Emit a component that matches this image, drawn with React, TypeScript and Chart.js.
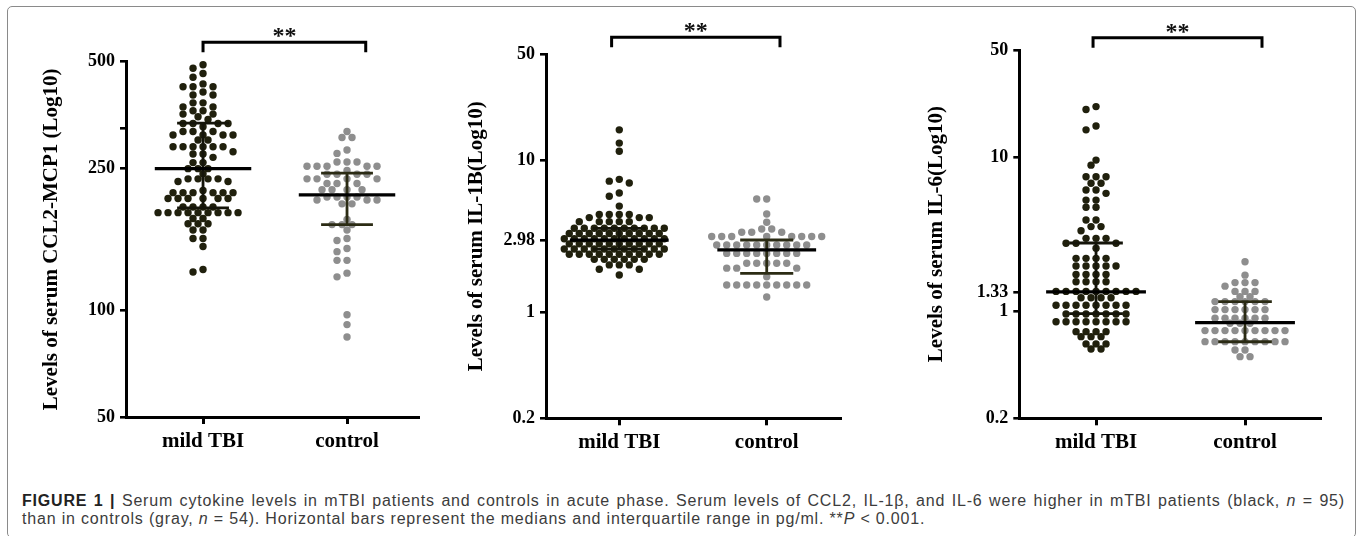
import React, { useEffect, useRef } from "react";
import { Chart, registerables } from "chart.js";

Chart.register(...registerables);

// ---------------- data ----------------
const categories = ["mild TBI", "control"];
const significance = "**";

// Panel 1: CCL2-MCP1
const ccl2Mild = [
  490, 479, 463, 452, 433, 425, 425, 425, 411, 403, 403, 383, 383, 373, 373, 364, 364, 356, 356, 350,
  344, 335, 335, 335, 335, 328, 318, 318, 318, 311, 311, 311, 311, 301, 301, 288, 288, 288, 288, 288,
  288, 279, 275, 275, 269, 260, 260, 250, 250, 250, 242, 234, 234, 234, 234, 230, 230, 217, 214, 214,
  214, 214, 214, 214, 206, 206, 206, 206, 206, 206, 195, 195, 195, 195, 188, 188, 188, 188, 188, 188,
  188, 188, 188, 181, 181, 175, 175, 175, 168, 168, 159, 159, 151, 130, 128,
];
const ccl2Control = [
  318, 306, 306, 282, 276, 261, 261, 261, 254, 254, 254, 254, 254, 247, 241, 241, 241, 241, 234, 234,
  234, 234, 227, 227, 227, 218, 218, 218, 218, 208, 208, 208, 208, 204, 204, 204, 199, 199, 180, 174,
  174, 174, 168, 159, 157, 149, 146, 138, 138, 127, 124, 97, 91, 84,
];
const ccl2Median = [250, 211];
const ccl2Q1 = [194, 174];
const ccl2Q3 = [336, 243];
const ccl2Ticks = [50, 100, 250, 325, 500];
const ccl2TickLabels = ["50", "100", "250", "", "500"];

// Panel 2: IL-1B
const il1bMild = [
  15.9, 13.0, 11.5, 7.5, 7.3, 7.1, 6.1, 5.8, 5.0, 4.4, 4.4, 4.4, 4.4, 4.2, 4.2, 4.2, 3.95, 3.95, 3.95, 3.95,
  3.95, 3.57, 3.57, 3.57, 3.57, 3.57, 3.57, 3.57, 3.57, 3.57, 3.57, 3.3, 3.3, 3.3, 3.3, 3.3, 3.3, 3.3, 3.3,
  3.3, 3.3, 3.05, 3.05, 3.05, 3.05, 3.05, 3.05, 3.05, 3.05, 3.05, 3.05, 3.05, 2.82, 2.82, 2.82, 2.82,
  2.82, 2.82, 2.82, 2.82, 2.82, 2.82, 2.61, 2.61, 2.61, 2.61, 2.61, 2.61, 2.61, 2.61, 2.61, 2.61, 2.61,
  2.41, 2.41, 2.41, 2.41, 2.41, 2.41, 2.41, 2.41, 2.41, 2.41, 2.23, 2.23, 2.23, 2.23, 2.23, 2.23, 2.05,
  2.05, 2.05, 1.92, 1.92, 1.76,
];
const il1bControl = [
  5.57, 5.57, 4.44, 3.91, 3.53, 3.53, 3.36, 3.36, 3.36, 3.15, 3.15, 3.15, 3.15, 3.15, 3.15, 3.15, 3.15,
  2.77, 2.77, 2.77, 2.77, 2.77, 2.77, 2.77, 2.77, 2.77, 2.77, 2.44, 2.44, 2.44, 2.44, 2.44, 2.44, 2.44,
  2.44, 2.1, 2.1, 2.1, 2.1, 2.1, 1.95, 1.95, 1.95, 1.71, 1.51, 1.51, 1.51, 1.51, 1.51, 1.51, 1.51, 1.51,
  1.51, 1.26,
];
const il1bMedian = [2.98, 2.57];
const il1bQ1 = [2.6, 1.8];
const il1bQ3 = [3.57, 2.99];
const il1bTicks = [0.2, 1, 2.98, 10, 50];
const il1bTickLabels = ["0.2", "1", "2.98", "10", "50"];

// Panel 3: IL-6
const il6Mild = [
  21.4, 20.5, 16.0, 15.1, 9.6, 8.9, 7.48, 7.48, 7.48, 6.78, 6.78, 6.13, 6.13, 5.83, 5.27, 5.27, 4.73, 4.73,
  3.91, 3.91, 3.54, 3.54, 3.33, 2.97, 2.97, 2.97, 2.76, 2.76, 2.76, 2.56, 2.2, 2.2, 2.2, 2.2, 1.96, 1.96,
  1.96, 1.96, 1.96, 1.73, 1.73, 1.73, 1.73, 1.55, 1.55, 1.55, 1.55, 1.34, 1.34, 1.34, 1.34, 1.34, 1.34,
  1.34, 1.34, 1.34, 1.22, 1.22, 1.22, 1.22, 1.09, 1.09, 1.09, 1.09, 1.09, 1.09, 1.09, 1.09, 0.955, 0.955,
  0.955, 0.955, 0.955, 0.955, 0.955, 0.851, 0.851, 0.851, 0.851, 0.851, 0.851, 0.851, 0.851, 0.733, 0.733,
  0.733, 0.733, 0.68, 0.68, 0.68, 0.61, 0.61, 0.61, 0.565, 0.565,
];
const il6Control = [
  2.09, 1.71, 1.53, 1.53, 1.53, 1.45, 1.34, 1.34, 1.34, 1.24, 1.24, 1.15, 1.15, 1.15, 1.15, 1.15, 1.15,
  1.02, 1.02, 1.02, 1.02, 1.02, 1.02, 0.896, 0.896, 0.896, 0.896, 0.896, 0.896, 0.831, 0.831, 0.831,
  0.745, 0.745, 0.745, 0.745, 0.745, 0.745, 0.745, 0.745, 0.745, 0.631, 0.631, 0.631, 0.631, 0.631,
  0.631, 0.631, 0.631, 0.631, 0.557, 0.557, 0.504, 0.504,
];
const il6Median = [1.33, 0.84];
const il6Q1 = [0.96, 0.63];
const il6Q3 = [2.77, 1.15];
const il6Ticks = [0.2, 1, 1.33, 10, 50];
const il6TickLabels = ["0.2", "1", "1.33", "10", "50"];

const titles = [
  "Levels of serum CCL2-MCP1 (Log10)",
  "Levels of serum IL-1B(Log10)",
  "Levels of serum IL-6(Log10)",
];

const captionLabel = "FIGURE 1 |";
const captionLine1a =
  " Serum cytokine levels in mTBI patients and controls in acute phase. Serum levels of CCL2, IL-1β, and IL-6 were higher in mTBI patients (black, ";
const captionLine1b = " = 95)";
const captionLine2a = "than in controls (gray, ";
const captionLine2b = " = 54). Horizontal bars represent the medians and interquartile range in pg/ml. **";
const captionLine2c = " < 0.001.";

// ---------------- styles / layout ----------------
const SERIF = "'Liberation Serif', 'Times New Roman', Times, serif";
const SANS = "'Liberation Sans', Arial, Helvetica, sans-serif";
const MILD_DOT = "#20200d";
const CONTROL_DOT = "#8e8e8e";
const MILD_BAR = "#15150a";
const CONTROL_BAR = "#2b2b14";
const MED_HALF = 0.335;
const CAP_HALF = 0.18;
const SWARM_STEP = 5;
const SWARM_GAP = 7;
const DOT_R = 3.7;

type Panel = {
  mild: number[];
  control: number[];
  median: number[];
  q1: number[];
  q3: number[];
  ticks: number[];
  tickLabels: string[];
  yMin: number;
  yMax: number;
  title: string;
  left: number;
  width: number;
  height: number;
  yWidth: number;
  padTop: number;
  padRight: number;
  xHeight: number;
  xMin: number;
  xMax: number;
  titlePad: number;
  bracket: [number, number];
  bracketGap: number;
};

const panels: Panel[] = [
  {
    mild: ccl2Mild, control: ccl2Control, median: ccl2Median, q1: ccl2Q1, q3: ccl2Q3,
    ticks: ccl2Ticks, tickLabels: ccl2TickLabels, yMin: 50, yMax: 500, title: titles[0],
    left: 10, width: 430, height: 470, yWidth: 116, padTop: 61.7, padRight: 22, xHeight: 53,
    xMin: 0.465, xMax: 2.493, titlePad: 29.4, bracket: [1.0, 2.13], bracketGap: 19.4,
  },
  {
    mild: il1bMild, control: il1bControl, median: il1bMedian, q1: il1bQ1, q3: il1bQ3,
    ticks: il1bTicks, tickLabels: il1bTickLabels, yMin: 0.2, yMax: 50, title: titles[1],
    left: 440, width: 460, height: 470, yWidth: 106, padTop: 54.3, padRight: 60, xHeight: 51.7,
    xMin: 0.503, xMax: 2.497, titlePad: 24.4, bracket: [0.948, 2.09], bracketGap: 17,
  },
  {
    mild: il6Mild, control: il6Control, median: il6Median, q1: il6Q1, q3: il6Q3,
    ticks: il6Ticks, tickLabels: il6TickLabels, yMin: 0.2, yMax: 50, title: titles[2],
    left: 900, width: 450, height: 470, yWidth: 119.3, padTop: 50, padRight: 29.3, xHeight: 51.7,
    xMin: 0.485, xMax: 2.508, titlePad: 24.1, bracket: [0.98, 2.114], bracketGap: 12.3,
  },
];

function swarm(chart: any, dsIndex: number, center: number) {
  const xs = chart.scales.x;
  const ys = chart.scales.y;
  const unit = xs.getPixelForValue(center + 1) - xs.getPixelForValue(center);
  const pts = chart.data.datasets[dsIndex].data as { x: number; y: number }[];
  const order = pts.map((_, i) => i).sort((a, b) => pts[b].y - pts[a].y);
  const placed: [number, number][] = [];
  for (const i of order) {
    const py = ys.getPixelForValue(pts[i].y);
    let off = 0;
    for (let k = 0; k < 400; k++) {
      const cand = (k % 2 === 1 ? -1 : 1) * Math.ceil(k / 2) * SWARM_STEP;
      if (placed.every((q) => (q[0] - cand) ** 2 + (q[1] - py) ** 2 >= SWARM_GAP * SWARM_GAP)) {
        off = cand;
        break;
      }
    }
    placed.push([off, py]);
    pts[i] = { x: center + off / unit, y: pts[i].y };
  }
}

function buildChart(canvas: HTMLCanvasElement, p: Panel): Chart {
  const datasets: any[] = [];
  const groups = [p.mild, p.control];
  const dotColors = [MILD_DOT, CONTROL_DOT];
  const barColors = [MILD_BAR, CONTROL_BAR];
  const seg = (a: any, b: any, color: string, w: number) => ({
    data: [a, b],
    showLine: true,
    borderColor: color,
    backgroundColor: color,
    borderWidth: w,
    pointRadius: 0,
    pointHoverRadius: 0,
    borderCapStyle: "butt",
    tension: 0,
    order: 0,
    clip: false,
  });
  groups.forEach((_, gi) => {
    const cx = gi + 1;
    datasets.push(seg({ x: cx - MED_HALF, y: p.median[gi] }, { x: cx + MED_HALF, y: p.median[gi] }, "#000", 3.2));
    datasets.push(seg({ x: cx - CAP_HALF, y: p.q3[gi] }, { x: cx + CAP_HALF, y: p.q3[gi] }, barColors[gi], 2.8));
    datasets.push(seg({ x: cx - CAP_HALF, y: p.q1[gi] }, { x: cx + CAP_HALF, y: p.q1[gi] }, barColors[gi], 2.8));
    datasets.push(seg({ x: cx, y: p.q1[gi] }, { x: cx, y: p.q3[gi] }, barColors[gi], 2.8));
  });
  const dotIndex: number[] = [];
  groups.forEach((vals, gi) => {
    dotIndex.push(datasets.length);
    datasets.push({
      data: vals.map((v) => ({ x: gi + 1, y: v })),
      showLine: false,
      pointRadius: DOT_R,
      pointHoverRadius: DOT_R,
      pointBorderWidth: 0,
      pointBackgroundColor: dotColors[gi],
      backgroundColor: dotColors[gi],
      borderColor: dotColors[gi],
      order: 1,
      clip: false,
    });
  });

  const bracketPlugin = {
    id: "sigBracket",
    afterDraw(chart: any) {
      const { ctx, chartArea } = chart;
      const xs = chart.scales.x;
      const x1 = xs.getPixelForValue(p.bracket[0]);
      const x2 = xs.getPixelForValue(p.bracket[1]);
      const y = chartArea.top - p.bracketGap;
      ctx.save();
      ctx.strokeStyle = "#000";
      ctx.lineWidth = 3;
      ctx.lineCap = "butt";
      ctx.lineJoin = "miter";
      ctx.beginPath();
      ctx.moveTo(x1, y + 10);
      ctx.lineTo(x1, y);
      ctx.lineTo(x2, y);
      ctx.lineTo(x2, y + 10);
      ctx.stroke();
      ctx.font = `bold 24px ${SERIF}`;
      ctx.fillStyle = "#111";
      ctx.textAlign = "center";
      ctx.textBaseline = "alphabetic";
      ctx.fillText(significance, (x1 + x2) / 2, y + 1);
      ctx.restore();
    },
  };

  const chart = new Chart(canvas, {
    type: "scatter",
    data: { datasets },
    options: {
      responsive: false,
      animation: false,
      events: [],
      layout: { padding: { top: p.padTop, right: p.padRight, bottom: 0, left: 0 } },
      plugins: { legend: { display: false }, tooltip: { enabled: false } },
      scales: {
        x: {
          type: "linear",
          min: p.xMin,
          max: p.xMax,
          afterFit: (s: any) => {
            s.height = p.xHeight;
          },
          afterBuildTicks: (s: any) => {
            s.ticks = categories.map((_, i) => ({ value: i + 1 }));
          },
          ticks: {
            callback: (v: any) => categories[Math.round(Number(v)) - 1] ?? "",
            font: { family: SERIF, size: 21, weight: "bold" },
            color: "#000",
            padding: 5,
            maxRotation: 0,
            minRotation: 0,
            autoSkip: false,
          },
          grid: {
            drawOnChartArea: false,
            drawTicks: true,
            tickLength: 7,
            tickWidth: 3,
            tickColor: "#000",
            color: "#000",
            lineWidth: 3,
          },
          border: { display: true, color: "#000", width: 3 },
        },
        y: {
          type: "logarithmic",
          min: p.yMin,
          max: p.yMax,
          afterFit: (s: any) => {
            s.width = p.yWidth;
          },
          afterBuildTicks: (s: any) => {
            s.ticks = p.ticks.map((v) => ({ value: v }));
          },
          ticks: {
            callback: (_v: any, i: number) => p.tickLabels[i],
            font: { family: SERIF, size: 18, weight: "bold" },
            color: "#000",
            padding: 5,
            autoSkip: false,
          },
          grid: {
            drawOnChartArea: false,
            drawTicks: true,
            tickLength: 6,
            tickWidth: 2.6,
            tickColor: "#000",
            color: "#000",
            lineWidth: 2.6,
          },
          border: { display: true, color: "#000", width: 3 },
          title: {
            display: true,
            text: p.title,
            font: { family: SERIF, size: 21, weight: "bold" },
            color: "#000",
            padding: { top: p.titlePad, bottom: 0 },
          },
        },
      },
    } as any,
    plugins: [bracketPlugin],
  });

  dotIndex.forEach((di, gi) => swarm(chart, di, gi + 1));
  chart.update("none");
  return chart;
}

function PanelChart({ panel }: { panel: Panel }) {
  const ref = useRef<HTMLCanvasElement>(null);
  useEffect(() => {
    if (!ref.current) return;
    const chart = buildChart(ref.current, panel);
    return () => chart.destroy();
  }, [panel]);
  return (
    <canvas
      ref={ref}
      width={panel.width}
      height={panel.height}
      style={{ position: "absolute", left: panel.left, top: 0, width: panel.width, height: panel.height }}
    />
  );
}

export default function App() {
  const captionStyle: React.CSSProperties = {
    position: "absolute",
    left: 22,
    fontFamily: SANS,
    fontSize: 16,
    lineHeight: "18px",
    letterSpacing: "0.82px",
    color: "#3c3c3c",
  };
  return (
    <div
      style={{
        position: "absolute",
        left: 0,
        top: 0,
        width: 1360,
        height: 536,
        overflow: "hidden",
        background: "#fff",
      }}
    >
      <div
        style={{
          position: "absolute",
          left: 7,
          top: 6,
          width: 1349,
          height: 532,
          border: "1.5px solid #8a8a8a",
          borderRadius: 5,
          boxSizing: "border-box",
        }}
      />
      {panels.map((p, i) => (
        <PanelChart key={i} panel={p} />
      ))}
      <div
        style={{
          ...captionStyle,
          top: 492,
          width: 1323,
          textAlign: "justify",
          textAlignLast: "justify",
          whiteSpace: "normal",
        }}
      >
        <b style={{ color: "#222" }}>{captionLabel}</b>
        {captionLine1a}
        <i>n</i>
        {captionLine1b}
      </div>
      <div style={{ ...captionStyle, top: 510, whiteSpace: "nowrap" }}>
        {captionLine2a}
        <i>n</i>
        {captionLine2b}
        <i>P</i>
        {captionLine2c}
      </div>
    </div>
  );
}
